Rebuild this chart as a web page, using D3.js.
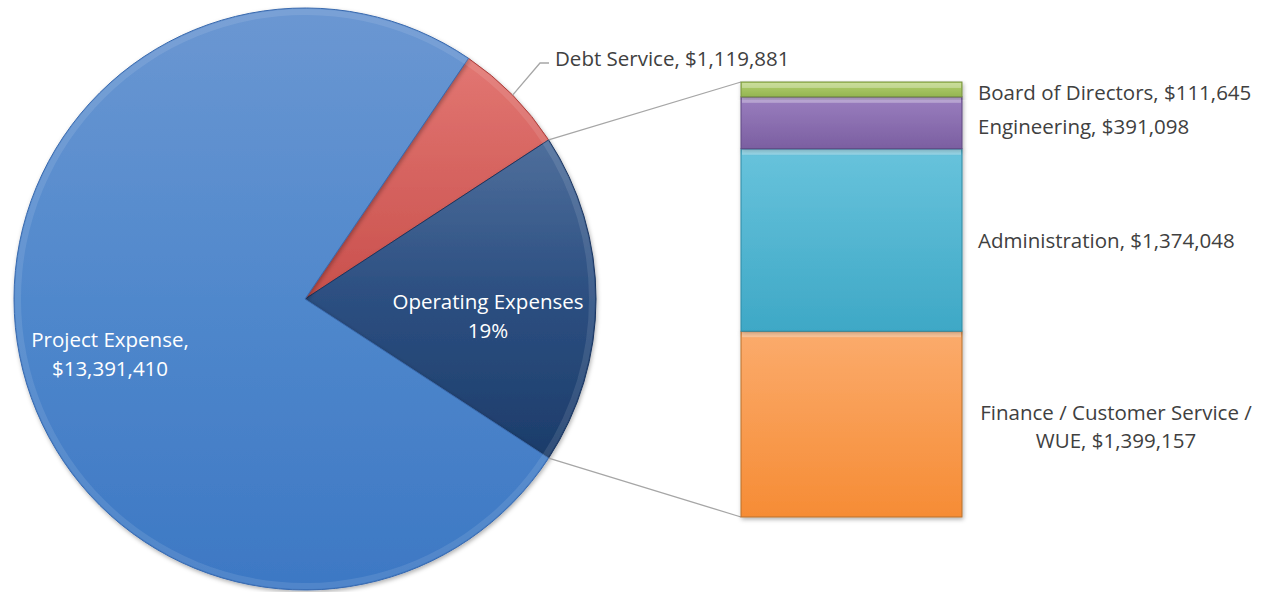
<!DOCTYPE html>
<html><head><meta charset="utf-8">
<script src="https://cdn.jsdelivr.net/npm/d3@7"></script>
<style>body{margin:0;background:#fff;}svg{display:block;font-family:"Open Sans",sans-serif;}</style>
</head><body><svg id="c" width="1270" height="592"></svg>
<script>
const pieCategories = ["Debt Service", "Operating Expenses", "Project Expense"];
const pieValues = [1119881, null, 13391410];
const barCategories = ["Finance / Customer Service / WUE", "Administration", "Engineering", "Board of Directors"];
const barValues = [1399157, 1374048, 391098, 111645];
const opLabel = ["Operating Expenses", "19%"];

const opTotal = d3.sum(barValues);
const vals = pieValues.map(v => v === null ? opTotal : v);
const total = d3.sum(vals);

const svg = d3.select("#c");
const defs = svg.append("defs");
function lg(id, stops, x2, y2) {
  const g = defs.append("linearGradient").attr("id", id).attr("x1", 0).attr("y1", 0).attr("x2", x2).attr("y2", y2);
  stops.forEach(s => g.append("stop").attr("offset", s[0]).attr("stop-color", s[1]));
}
lg("gProj", [[0, "#6b97d2"], [0.5, "#5088cc"], [1, "#3d78c4"]], 0, 1);
lg("gDebt", [[0, "#e27672"], [1, "#c9504c"]], 0, 1);
lg("gOp", [[0, "#4f6f9c"], [0.45, "#2e5183"], [1, "#1c3c6a"]], 0, 1);
lg("gB0", [[0, "#fbab6c"], [1, "#f68c35"]], 0, 1);
lg("gB1", [[0, "#68c3dc"], [1, "#3ea8c6"]], 0, 1);
lg("gB2", [[0, "#9a7ebf"], [1, "#7b5fa1"]], 0, 1);
lg("gB3", [[0, "#b4d06e"], [1, "#94b552"]], 0, 1);
const f = defs.append("filter").attr("id", "sh").attr("x", "-10%").attr("y", "-10%").attr("width", "130%").attr("height", "130%");
f.append("feDropShadow").attr("dx", 1).attr("dy", 2).attr("stdDeviation", 2).attr("flood-color", "#000").attr("flood-opacity", 0.3);

const cx = 305, cy = 299, R = 291;
const opFrac = opTotal / total, debtFrac = vals[0] / total;
const start = Math.PI / 2 - opFrac * Math.PI - debtFrac * 2 * Math.PI;
const pie = d3.pie().sort(null).value(d => d).startAngle(start).endAngle(start + 2 * Math.PI);
const arcs = pie(vals);
const arc = d3.arc().innerRadius(0).outerRadius(R);
const fills = ["url(#gDebt)", "url(#gOp)", "url(#gProj)"];
const strokes = ["#a8403d", "#1a3560", "#3a6aae"];

const g = svg.append("g").attr("transform", `translate(${cx},${cy})`);
g.selectAll("path.s").data(arcs).join("path").attr("class", "s")
  .attr("d", arc).attr("fill", (d, i) => fills[i]).attr("stroke", (d, i) => strokes[i]).attr("stroke-width", 1)
  .attr("filter", "url(#sh)");
const bev = d3.arc().innerRadius(R - 7).outerRadius(R - 1);
g.selectAll("path.b").data(arcs).join("path").attr("class", "b")
  .attr("d", bev).attr("fill", "#fff").attr("opacity", 0.1);

function pt(a, r) { return [cx + r * Math.sin(a), cy - r * Math.cos(a)]; }
const op = arcs[1];
const pTop = pt(op.startAngle, R), pBot = pt(op.endAngle, R);

const bx0 = 741, bx1 = 962;
const y = d3.scaleLinear().domain([0, opTotal]).range([517, 82]);
const stack = d3.cumsum(barValues);
const segs = barValues.map((v, i) => ({ v, lo: stack[i] - v, hi: stack[i], i }));
svg.append("line").attr("x1", pTop[0]).attr("y1", pTop[1]).attr("x2", bx0).attr("y2", y(opTotal)).attr("stroke", "#a6a6a6").attr("stroke-width", 1.3);
svg.append("line").attr("x1", pBot[0]).attr("y1", pBot[1]).attr("x2", bx0).attr("y2", y(0)).attr("stroke", "#a6a6a6").attr("stroke-width", 1.3);

const bStroke = ["#b8702f", "#2f8aa3", "#5f4881", "#76913f"];
const bg = svg.append("g");
bg.selectAll("rect.m").data(segs).join("rect").attr("class", "m")
  .attr("x", bx0).attr("width", bx1 - bx0)
  .attr("y", d => y(d.hi)).attr("height", d => y(d.lo) - y(d.hi))
  .attr("fill", d => `url(#gB${d.i})`).attr("stroke", d => bStroke[d.i]).attr("stroke-width", 1)
  .attr("filter", "url(#sh)");
bg.selectAll("rect.hl").data(segs).join("rect").attr("class", "hl")
  .attr("x", bx0 + 1).attr("width", bx1 - bx0 - 2)
  .attr("y", d => y(d.hi) + 1).attr("height", d => Math.min(5, (y(d.lo) - y(d.hi)) / 3))
  .attr("fill", "#fff").attr("opacity", 0.3);

const dark = "#404040";
const fs = 20.5;
const fmt = d3.format("$,");
const dMid = (arcs[0].startAngle + arcs[0].endAngle) / 2;
const dp = pt(dMid, R);
svg.append("polyline").attr("points", `${dp[0]},${dp[1]} 540,63 549,63`).attr("fill", "none").attr("stroke", "#a6a6a6").attr("stroke-width", 1.3);
svg.append("text").attr("x", 555).attr("y", 66).attr("fill", dark).attr("font-size", fs)
  .text(`${pieCategories[0]}, ${fmt(vals[0])}`);

const pl = svg.append("text").attr("fill", "#fff").attr("font-size", fs).attr("text-anchor", "middle");
pl.append("tspan").attr("x", 110).attr("y", 347).text(`${pieCategories[2]},`);
pl.append("tspan").attr("x", 110).attr("y", 376).text(fmt(vals[2]));

const ol = svg.append("text").attr("fill", "#fff").attr("font-size", fs).attr("text-anchor", "middle");
ol.append("tspan").attr("x", 488).attr("y", 309).text(opLabel[0]);
ol.append("tspan").attr("x", 488).attr("y", 338).text(opLabel[1]);

svg.append("text").attr("x", 978).attr("y", 100).attr("fill", dark).attr("font-size", fs).text(`${barCategories[3]}, ${fmt(barValues[3])}`);
svg.append("text").attr("x", 978).attr("y", 134).attr("fill", dark).attr("font-size", fs).text(`${barCategories[2]}, ${fmt(barValues[2])}`);
svg.append("text").attr("x", 978).attr("y", 248).attr("fill", dark).attr("font-size", fs).text(`${barCategories[1]}, ${fmt(barValues[1])}`);
const fl = svg.append("text").attr("fill", dark).attr("font-size", fs).attr("text-anchor", "middle");
fl.append("tspan").attr("x", 1116).attr("y", 420).text("Finance / Customer Service /");
fl.append("tspan").attr("x", 1116).attr("y", 448).text(`WUE, ${fmt(barValues[0])}`);
</script></body></html>
